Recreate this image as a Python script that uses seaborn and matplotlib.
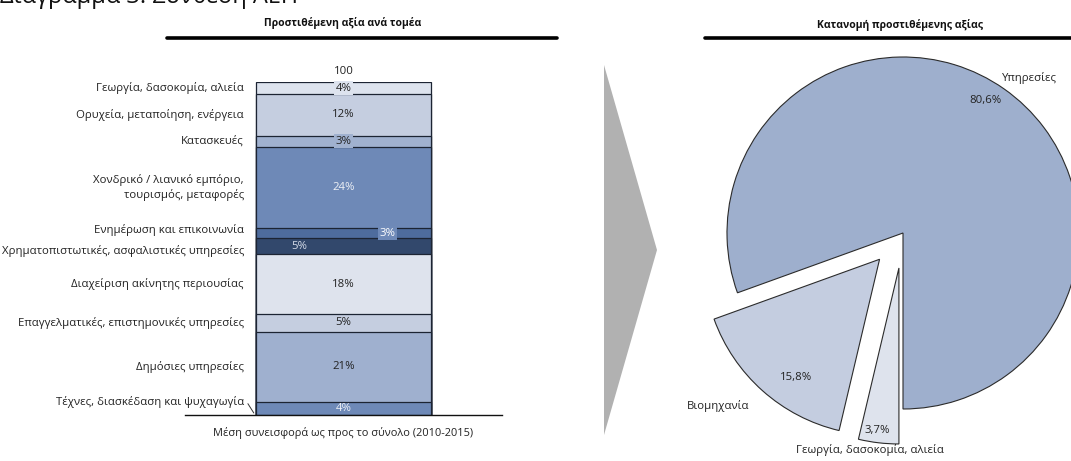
import matplotlib
matplotlib.use("Agg")
import matplotlib.pyplot as plt
import seaborn as sns
import numpy as np
from matplotlib.lines import Line2D
from matplotlib.patches import Polygon

# ---- data -------------------------------------------------------------
sectors = [
    "Γεωργία, δασοκομία, αλιεία",
    "Ορυχεία, μεταποίηση, ενέργεια",
    "Κατασκευές",
    "Χονδρικό / λιανικό εμπόριο,\nτουρισμός, μεταφορές",
    "Ενημέρωση και επικοινωνία",
    "Χρηματοπιστωτικές, ασφαλιστικές υπηρεσίες",
    "Διαχείριση ακίνητης περιουσίας",
    "Επαγγελματικές, επιστημονικές υπηρεσίες",
    "Δημόσιες υπηρεσίες",
    "Τέχνες, διασκέδαση και ψυχαγωγία",
]
shares = [3.7, 12.4, 3.4, 24.3, 3.2, 4.8, 17.9, 5.3, 21.3, 3.8]

groups = ["Υπηρεσίες", "Βιομηχανία", "Γεωργία, δασοκομία, αλιεία"]
group_shares = [80.6, 15.8, 3.7]

# ---- styling ----------------------------------------------------------
sector_colors = ["#dde3ee", "#c5cee0", "#a0b1cf", "#6e89b7", "#4e6c9d",
                 "#32486c", "#dee3ed", "#c5cee0", "#9fb0cf", "#6e89b7"]
value_colors = ["#222222", "#222222", "#222222", "#eef1f6", "#ffffff",
                "#d4dbe8", "#222222", "#222222", "#222222", "#eef1f6"]
value_boxed = [True, False, True, False, True, False, False, False, False, False]
value_dx = [0, 0, 0, 0, 0.20, -0.20, 0, 0, 0, 0]
label_dy = [0, 0, 0, 0, 0.8, -1.5, 0, 0, 0, 1.9]
group_colors = ["#9eafcd", "#c4cde0", "#dee3ed"]

W, H = 1071, 461
sns.set_theme(style="white")
plt.rcParams["font.family"] = ["Open Sans", "DejaVu Sans"]
FS = 8.2

fig = plt.figure(figsize=(W / 100, H / 100), dpi=100)


def px_box(x0, y0, x1, y1):
    """Figure-fraction rectangle from pixel corners (y measured from top)."""
    return [x0 / W, 1 - y1 / H, (x1 - x0) / W, (y1 - y0) / H]


# ---- stacked bar ------------------------------------------------------
total = float(np.sum(shares))
ax = fig.add_axes(px_box(185, 82, 502, 415))
bottoms = total - np.cumsum(shares)          # first sector sits on top
tops = bottoms + np.array(shares)
for top, col in zip(tops, sector_colors):   # tallest first, smaller on top
    sns.barplot(x=[0], y=[top], color=col, saturation=1, width=0.8,
                edgecolor="#1c2433", linewidth=0.9, ax=ax)

ax.set_xlim(-0.4 * 317 / 175, 0.4 * 317 / 175)
ax.set_ylim(0, total)
ax.set_xticks([])
ax.set_yticks([])
ax.set_xlabel("")
ax.set_ylabel("")
for side in ["top", "left", "right"]:
    ax.spines[side].set_visible(False)
ax.spines["bottom"].set_color("#111111")
ax.spines["bottom"].set_linewidth(1.0)

for i, (name, v) in enumerate(zip(sectors, shares)):
    yc = bottoms[i] + v / 2
    kw = {}
    if value_boxed[i]:
        kw["bbox"] = dict(boxstyle="square,pad=0.12",
                          fc=sector_colors[i] if i != 4 else "#6f8ab8",
                          ec="none")
    ax.text(value_dx[i], yc, f"{v:.0f}%", ha="center", va="center",
            fontsize=FS, color=value_colors[i], **kw)
    ax.text(-0.455, yc + label_dy[i], name, ha="right", va="center",
            fontsize=FS, color="#222222", linespacing=1.3, clip_on=False)

# leader from the last label to its thin segment
ax.plot([-0.437, -0.41], [bottoms[-1] + 3.4, bottoms[-1] + 0.6],
        color="#333333", lw=0.7, clip_on=False)

ax.text(0, total + 3.2, f"{total:.0f}", ha="center", va="center",
        fontsize=FS, color="#222222", clip_on=False)
ax.text(0, -5.5, "Μέση συνεισφορά ως προς το σύνολο (2010-2015)",
        ha="center", va="center", fontsize=7.9, color="#222222",
        clip_on=False)

# ---- pie --------------------------------------------------------------
R = 176
group_total = float(np.sum(group_shares))
pax = fig.add_axes(px_box(903 - 230, 233 - 230, 903 + 230, 233 + 230))
wedges, texts, autotexts = pax.pie(
    group_shares, labels=groups, colors=group_colors,
    startangle=-90, counterclock=True, explode=[0, 0.2, 0.2],
    autopct=lambda p: f"{p * group_total / 100:.1f}".replace(".", ",") + "%",
    pctdistance=0.9, labeldistance=1.12,
    wedgeprops=dict(edgecolor="#2b2b2b", linewidth=0.8),
    textprops=dict(fontsize=FS, color="#222222"))
pax.set_xlim(-230 / R, 230 / R)
pax.set_ylim(-230 / R, 230 / R)
pax.set_aspect("equal")

# label placement tweaks
texts[0].set_position((0.72, 0.88)); texts[0].set_ha("center")
autotexts[0].set_position((0.47, 0.755))
texts[1].set_position((-1.05, -0.985)); texts[1].set_ha("center")
autotexts[1].set_position((-0.61, -0.82))
texts[2].set_position((-0.19, -1.235)); texts[2].set_ha("center")
autotexts[2].set_position((-0.145, -1.12))

# ---- titles, rules and connecting arrow ------------------------------
fig.text(343 / W, 1 - 23 / H, "Προστιθέμενη αξία ανά τομέα", ha="center",
         va="center", fontsize=7.5, fontweight="bold", color="#111111")
fig.text(900 / W, 1 - 25 / H, "Κατανομή προστιθέμενης αξίας", ha="center",
         va="center", fontsize=7.5, fontweight="bold", color="#111111")
fig.add_artist(Line2D([167 / W, 557 / W], [1 - 38 / H] * 2, color="black",
                      lw=2.6, transform=fig.transFigure))
fig.add_artist(Line2D([705 / W, 1.0], [1 - 38 / H] * 2, color="black",
                      lw=2.6, transform=fig.transFigure))
fig.text(0.0, 1 - 3 / H, "Διάγραμμα 3: Σύνθεση ΑΕΠ", ha="left",
         va="baseline", fontsize=17, color="#111111")
arrow = Polygon([(604 / W, 1 - 65 / H), (657 / W, 1 - 250 / H),
                 (604 / W, 1 - 435 / H)], closed=True, fc="#b1b1b1",
                ec="none", transform=fig.transFigure)
fig.add_artist(arrow)

fig.savefig("out.png", dpi=100, facecolor="white")
